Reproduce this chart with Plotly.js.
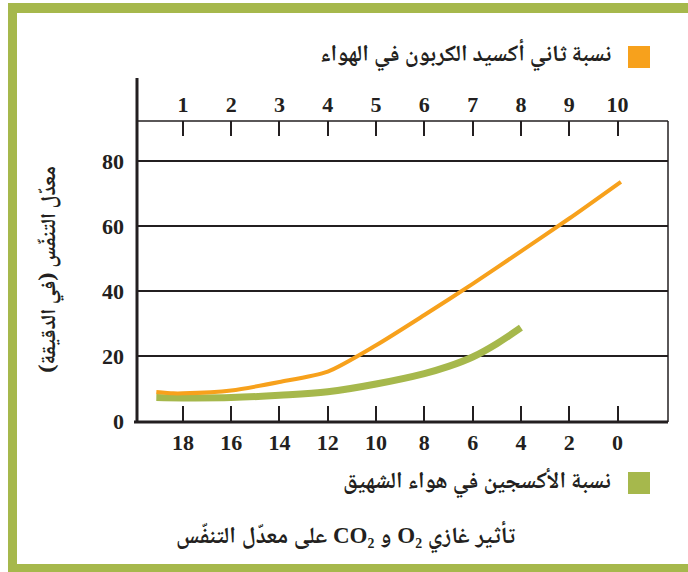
<!DOCTYPE html>
<html><head><meta charset="utf-8">
<script src="https://cdn.plot.ly/plotly-3.0.1.min.js"></script>
<style>html,body{margin:0;padding:0;background:#fff;}</style>
</head><body><div id="chart" style="width:688px;height:572px;"></div>
<script>
// CO2 percentage in air (top axis) vs breathing rate
const co2Percent = [0.45, 0.8, 1, 2, 3, 4, 5, 6, 7, 8, 9, 10.07];
const co2Rate    = [8.9, 8.5, 8.5, 9.4, 12.0, 15.2, 23.3, 32.6, 42.2, 52.2, 62.3, 73.6];
// O2 percentage in inhaled air (bottom axis) vs breathing rate
const o2Percent = [19.1, 18, 16, 14, 12, 10, 8, 7, 6, 5, 4];
const o2Rate    = [7.2, 7.1, 7.2, 7.9, 9.0, 11.4, 14.6, 16.8, 19.7, 23.8, 28.7];

const topTicks = [1, 2, 3, 4, 5, 6, 7, 8, 9, 10];
const bottomTicks = [18, 16, 14, 12, 10, 8, 6, 4, 2, 0];
const yTicks = [0, 20, 40, 60, 80];

const co2Label = 'نسبة ثاني أكسيد الكربون في الهواء';
const o2Label = 'نسبة الأكسجين في هواء الشهيق';
const yTitle = 'معدّل التنفّس (في الدقيقة)';
const caption = 'تأثير غازي O₂ و CO₂ على معدّل التنفّس';

const RLE = '\u202B', PDF = '\u202C';
const ink = '#231f20';
const orange = '#f7a11c';
const green = '#a6b84c';
const numFont = {family: 'Liberation Serif, serif', size: 22, color: ink, weight: 'bold'};
const arFamily = 'Noto Naskh Arabic, Noto Sans Arabic, DejaVu Sans, sans-serif';
const legFont = {family: arFamily, size: 23, color: ink, weight: 'bold'};
const yFont = {family: arFamily, size: 21, color: ink, weight: 'bold'};
const capFont = {family: 'Liberation Serif, Noto Naskh Arabic, Noto Sans Arabic, DejaVu Sans, serif', size: 23, color: ink, weight: 'bold'};

const W = 688, H = 572, L = 137, R = 20, T = 121, B = 151;
const pw = W - L - R, ph = H - T - B;
const px = v => (v - L) / pw;
const py = v => (H - B - v) / ph;

const traces = [
  {x: co2Percent, y: co2Rate, xaxis: 'x2', yaxis: 'y', mode: 'lines',
   line: {color: orange, width: 4, shape: 'spline', smoothing: 0.7}, hoverinfo: 'skip'},
  {x: o2Percent, y: o2Rate, xaxis: 'x', yaxis: 'y', mode: 'lines',
   line: {color: green, width: 7, shape: 'spline', smoothing: 1}, hoverinfo: 'skip'}
];

const layout = {
  width: W, height: H,
  margin: {l: L, r: R, t: T, b: B, pad: 0},
  paper_bgcolor: '#fff', plot_bgcolor: '#fff',
  showlegend: false,
  xaxis: {range: [19.9, -2.09], tickvals: bottomTicks, ticktext: bottomTicks.map(String),
          ticks: 'inside', ticklen: 15, tickwidth: 2, tickcolor: ink,
          showgrid: false, zeroline: false, showline: false, tickfont: numFont,
          ticklabelstandoff: 6, fixedrange: true},
  xaxis2: {overlaying: 'x', side: 'top', range: [0.05, 11.045], tickvals: topTicks,
           ticktext: topTicks.map(String), ticks: 'inside', ticklen: 15, tickwidth: 2, tickcolor: ink,
           showgrid: false, zeroline: false, showline: false, tickfont: numFont,
           ticklabelstandoff: 4, fixedrange: true},
  yaxis: {range: [0, 92.3], tickvals: yTicks, ticktext: yTicks.map(String),
          ticks: '', showgrid: true, gridcolor: ink, gridwidth: 2, zeroline: false,
          showline: false, tickfont: numFont, ticklabelstandoff: 12, fixedrange: true},
  shapes: [
    // green frame
    {type: 'rect', xref: 'paper', yref: 'paper', x0: px(8), x1: px(17), y0: py(572), y1: py(3), fillcolor: green, line: {width: 0}, layer: 'below'},
    {type: 'rect', xref: 'paper', yref: 'paper', x0: px(8), x1: px(700), y0: py(13), y1: py(3), fillcolor: green, line: {width: 0}, layer: 'below'},
    {type: 'rect', xref: 'paper', yref: 'paper', x0: px(8), x1: px(700), y0: py(572), y1: py(564), fillcolor: green, line: {width: 0}, layer: 'below'},
    // plot frame
    {type: 'line', xref: 'paper', yref: 'paper', x0: px(137), x1: px(137), y0: py(423), y1: py(78), line: {color: ink, width: 3}},
    {type: 'line', xref: 'paper', yref: 'paper', x0: px(134), x1: px(668), y0: py(422), y1: py(422), line: {color: ink, width: 3}},
    {type: 'line', xref: 'paper', yref: 'paper', x0: px(137), x1: px(668), y0: py(121), y1: py(121), line: {color: ink, width: 1.5}},
    {type: 'line', xref: 'paper', yref: 'paper', x0: px(668), x1: px(668), y0: py(422), y1: py(121), line: {color: ink, width: 1.5}},
    // legend squares
    {type: 'rect', xref: 'paper', yref: 'paper', x0: px(628), x1: px(650), y0: py(68), y1: py(46), fillcolor: orange, line: {width: 0}},
    {type: 'rect', xref: 'paper', yref: 'paper', x0: px(628), x1: px(650), y0: py(494), y1: py(472), fillcolor: green, line: {width: 0}}
  ],
  annotations: [
    {xref: 'paper', yref: 'paper', x: px(613), y: py(56), xanchor: 'right', yanchor: 'middle',
     text: RLE + co2Label + PDF, showarrow: false, font: legFont},
    {xref: 'paper', yref: 'paper', x: px(613), y: py(483), xanchor: 'right', yanchor: 'middle',
     text: RLE + o2Label + PDF, showarrow: false, font: legFont},
    {xref: 'paper', yref: 'paper', x: px(346), y: py(537), xanchor: 'center', yanchor: 'middle',
     text: RLE + caption + PDF, showarrow: false, font: capFont},
    {xref: 'paper', yref: 'paper', x: px(50), y: py(270), xanchor: 'center', yanchor: 'middle',
     textangle: -90, text: RLE + yTitle + PDF, showarrow: false, font: yFont}
  ]
};

Plotly.newPlot('chart', traces, layout, {staticPlot: true, displayModeBar: false});
</script>
</body></html>
